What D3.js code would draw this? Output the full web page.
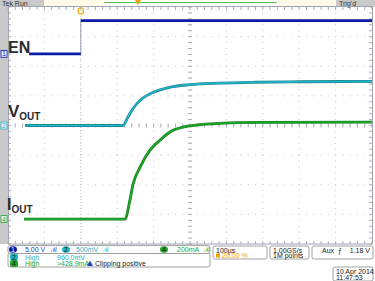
<!DOCTYPE html>
<html>
<head>
<meta charset="utf-8">
<script src="https://cdn.jsdelivr.net/npm/d3@7"></script>
<style>
  body { margin: 0; background: #fff; }
  svg { display: block; font-family: "Liberation Sans", Arial, sans-serif; }
</style>
</head>
<body>
<div id="container"></div>
<script>
const w = 375;
const h = 281;

// time in microseconds, 100us/div, trigger at 20%
const enTime = [-142, 0, 0, 800];
const enVolts = [0, 0, 5.6, 5.6];
const voutTime = [-153, 116, 130, 145, 170, 200, 240, 300, 380, 480, 600, 800];
const voutVolts = [0, 0, 0.15, 0.30, 0.46, 0.56, 0.64, 0.69, 0.715, 0.73, 0.738, 0.745];
const ioutTime = [-156, 121, 135, 143, 163, 190, 218, 245, 300, 382, 500, 800];
const ioutMa = [0, 0, 128, 230, 351, 466, 534, 588, 630, 647, 653, 655];

// channel settings (units per division, reference position in divisions)
const chNames = ["1", "2", "4"];
const chColors = ["#0c1aa8", "#22b4c6", "#1ea82a"];
const chPerDiv = [5, 0.5, 200];
const chOffset = [2.42, 0, -3.16];

const svg = d3.select("#container")
              .append("svg")
              .attr("width", w)
              .attr("height", h);

const x = d3.scaleLinear().domain([-200, 800]).range([8, 372]);
const yDiv = d3.scaleLinear().domain([-4, 4]).range([244, 7]);
const yCh = (i, v) => yDiv(chOffset[i] + v / chPerDiv[i]);

// frame
svg.append("rect").attr("x", 0).attr("y", 0).attr("width", 8).attr("height", 244).attr("fill", "#c9c9c9");
svg.append("rect").attr("x", 0).attr("y", 0).attr("width", w).attr("height", 7).attr("fill", "#c9c9c9");
svg.append("rect").attr("x", 44).attr("y", 0).attr("width", 59).attr("height", 6).attr("fill", "#fffbe6");
svg.append("rect").attr("x", 103).attr("y", 0).attr("width", 175).attr("height", 6).attr("fill", "#fff");
svg.append("rect").attr("x", 278).attr("y", 0).attr("width", 58).attr("height", 6).attr("fill", "#fffbe6");
svg.append("line").attr("x1", 104).attr("x2", 277).attr("y1", 2.5).attr("y2", 2.5)
   .attr("stroke", "#5cc05c").attr("stroke-width", 1);
svg.append("path").attr("d", "M135,0 L141,0 L138,5 Z").attr("fill", "#f0a000");
svg.append("text").attr("x", 2).attr("y", 6).text("Tek Run").style("font-size", "7px").attr("fill", "#333");
svg.append("text").attr("x", 339).attr("y", 6).text("Trig'd").style("font-size", "7px").attr("fill", "#333");

// grid dots
const grid = svg.append("g").attr("fill", "#bcc3d8");
const xLines = d3.range(-100, 800, 100);
const yLines = d3.range(-3, 4, 1);
const yMinor = d3.range(-4, 4.01, 0.2);
const xMinor = d3.range(-200, 800.1, 20);
xLines.forEach(t => {
  grid.selectAll(null).data(yMinor).enter().append("rect")
      .attr("x", x(t) - 0.5).attr("y", d => yDiv(d) - 0.5).attr("width", 1).attr("height", 1);
});
yLines.forEach(v => {
  grid.selectAll(null).data(xMinor).enter().append("rect")
      .attr("x", d => x(d) - 0.5).attr("y", yDiv(v) - 0.5).attr("width", 1).attr("height", 1);
});

// center cross ticks and edge ticks
const ticks = svg.append("g").attr("stroke", "#a9aebb").attr("stroke-width", 1);
ticks.selectAll(null).data(xMinor).enter().append("line")
     .attr("x1", d => x(d)).attr("x2", d => x(d)).attr("y1", yDiv(0) - 2).attr("y2", yDiv(0) + 2);
ticks.selectAll(null).data(yMinor).enter().append("line")
     .attr("y1", d => yDiv(d)).attr("y2", d => yDiv(d)).attr("x1", x(300) - 2).attr("x2", x(300) + 2);
ticks.selectAll(null).data(xMinor).enter().append("line")
     .attr("x1", d => x(d)).attr("x2", d => x(d)).attr("y1", 7).attr("y2", 10);
ticks.selectAll(null).data(xMinor).enter().append("line")
     .attr("x1", d => x(d)).attr("x2", d => x(d)).attr("y1", 241).attr("y2", 244);
ticks.selectAll(null).data(yMinor).enter().append("line")
     .attr("y1", d => yDiv(d)).attr("y2", d => yDiv(d)).attr("x1", 8).attr("x2", 11);
ticks.selectAll(null).data(yMinor).enter().append("line")
     .attr("y1", d => yDiv(d)).attr("y2", d => yDiv(d)).attr("x1", 369).attr("x2", 372);
svg.append("line").attr("x1", x(0)).attr("x2", x(0)).attr("y1", 7).attr("y2", 244)
   .attr("stroke", "#c4c4c4").attr("stroke-dasharray", "1,2");
svg.append("rect").attr("x", 8.5).attr("y", 6.5).attr("width", 364).attr("height", 237.5)
   .attr("fill", "none").attr("stroke", "#9fa6b0");

// trigger marker
svg.append("rect").attr("x", x(0) - 2.5).attr("y", 8).attr("width", 5).attr("height", 6).attr("rx", 1.5)
   .attr("fill", "none").attr("stroke", "#f0a000").attr("stroke-width", 1.2);

// traces
const line = (i, ts, vs) => d3.line().curve(d3.curveMonotoneX)
  .x((d, k) => x(ts[k])).y((d, k) => yCh(i, vs[k]))(vs);

svg.append("path").attr("d", d3.line().x((d, k) => x(enTime[k])).y((d, k) => yCh(0, enVolts[k]))(enVolts))
   .attr("fill", "none").attr("stroke", "#9aa0b0").attr("stroke-width", 1);
const enRuns = d3.groups(enVolts.map((v, k) => [enTime[k], v]), d => d[1]);
enRuns.forEach(([v, pts]) => {
  svg.append("path")
     .attr("d", d3.line().x(d => x(d[0])).y(d => yCh(0, d[1]))(pts))
     .attr("fill", "none").attr("stroke", chColors[0]).attr("stroke-width", 2.8);
});

[[1, voutTime, voutVolts], [2, ioutTime, ioutMa]].forEach(([i, ts, vs]) => {
  svg.append("path").attr("d", line(i, ts, vs))
     .attr("fill", "none").attr("stroke", d3.color(chColors[i]).darker(0.9)).attr("stroke-width", 2.8)
     .attr("stroke-linejoin", "round");
  svg.append("path").attr("d", line(i, ts, vs))
     .attr("fill", "none").attr("stroke", chColors[i]).attr("stroke-width", 1.6)
     .attr("stroke-linejoin", "round");
});

// channel markers on left strip
chNames.forEach((n, i) => {
  const yy = yCh(i, 0);
  svg.append("rect").attr("x", 1).attr("y", yy - 3.5).attr("width", 6).attr("height", 7)
     .attr("fill", "#e8f0ff").attr("stroke", chColors[i]).attr("stroke-width", 0.8);
  svg.append("text").attr("x", 4).attr("y", yy + 2.5).attr("text-anchor", "middle")
     .text(n).style("font-size", "7px").attr("fill", chColors[i]);
});

// signal labels
const lab = svg.append("g").attr("fill", "#2b2b2b").style("font-weight", "bold");
lab.append("text").attr("x", 8).attr("y", 53).text("EN").style("font-size", "16px");
const vt = lab.append("text").attr("x", 8).attr("y", 117).style("font-size", "17px");
vt.append("tspan").text("V");
vt.append("tspan").text("OUT").attr("dy", 3).style("font-size", "10px");
const it = lab.append("text").attr("x", 7).attr("y", 210).style("font-size", "16px");
it.append("tspan").text("I");
it.append("tspan").text("OUT").attr("dy", 3).style("font-size", "10px");

// bottom readouts
const info = svg.append("g").style("font-size", "7px");
const box = (bx, by, bw, bh) => info.append("rect").attr("x", bx).attr("y", by).attr("width", bw).attr("height", bh)
  .attr("rx", 2).attr("fill", "#fff").attr("stroke", "#8a8a8a").attr("stroke-width", 0.8);
box(8, 253, 202, 14);
box(8, 245.5, 202, 8);
box(213, 246, 54, 13);
box(270, 246, 39, 13);
box(312, 246, 61, 13);
box(333, 267, 40, 14);

const badge = (cx, cy, i) => {
  info.append("ellipse").attr("cx", cx).attr("cy", cy).attr("rx", 4).attr("ry", 3.3).attr("fill", chColors[i]);
  info.append("text").attr("x", cx).attr("y", cy + 2.5).attr("text-anchor", "middle")
      .text(chNames[i]).attr("fill", i === 0 ? "#fff" : "#111");
};
badge(13, 249.5, 0);
info.append("text").attr("x", 25).attr("y", 252).text("5.00 V").attr("fill", "#2040c0");
info.append("text").attr("x", 51).attr("y", 252).text("ℬ").attr("fill", "#2040c0");
badge(66, 249.5, 1);
info.append("text").attr("x", 76).attr("y", 252).text("500mV").attr("fill", "#22b4c6");
info.append("text").attr("x", 103).attr("y", 252).text("ℬ").attr("fill", "#22b4c6");
badge(164, 249.5, 2);
info.append("text").attr("x", 177).attr("y", 252).text("200mA").attr("fill", "#1ea82a");
info.append("text").attr("x", 204).attr("y", 252).text("ℬ").attr("fill", "#1ea82a");

const tag = (tx, ty, i) => {
  info.append("rect").attr("x", tx).attr("y", ty - 3.5).attr("width", 8).attr("height", 7).attr("rx", 2)
      .attr("fill", chColors[i]);
  info.append("text").attr("x", tx + 4).attr("y", ty + 2.5).attr("text-anchor", "middle").text(chNames[i]).attr("fill", "#111");
};
tag(10, 257, 1);
info.append("text").attr("x", 25).attr("y", 259.5).text("High").attr("fill", "#22b4c6");
info.append("text").attr("x", 57).attr("y", 259.5).text("960.0mV").attr("fill", "#22b4c6");
tag(10, 263.5, 2);
info.append("text").attr("x", 25).attr("y", 266).text("High").attr("fill", "#1ea82a");
info.append("text").attr("x", 57).attr("y", 266).text(">428.9mA").attr("fill", "#1ea82a");
info.append("path").attr("d", "M90,260.5 L93,266 L87,266 Z").attr("fill", "#2040c0");
info.append("text").attr("x", 95).attr("y", 266).text("Clipping positive").attr("fill", "#222");

info.append("text").attr("x", 216).attr("y", 252.5).text("100µs").attr("fill", "#222");
info.append("rect").attr("x", 216).attr("y", 253.5).attr("width", 4).attr("height", 4).attr("fill", "#f0a000");
info.append("text").attr("x", 222).attr("y", 258).text("20.00 %").attr("fill", "#f0a000");
info.append("text").attr("x", 273).attr("y", 252.5).text("1.00GS/s").attr("fill", "#222");
info.append("text").attr("x", 273).attr("y", 258).text("1M points").attr("fill", "#222");
info.append("text").attr("x", 322).attr("y", 252.5).text("Aux").attr("fill", "#222");
info.append("text").attr("x", 338).attr("y", 252.5).text("⨍").attr("fill", "#222");
info.append("text").attr("x", 370).attr("y", 252.5).attr("text-anchor", "end").text("1.18 V").attr("fill", "#222");
info.append("text").attr("x", 336).attr("y", 273.5).text("10 Apr 2014").attr("fill", "#222");
info.append("text").attr("x", 336).attr("y", 279.5).text("11:47:53").attr("fill", "#222");
</script>
</body>
</html>
